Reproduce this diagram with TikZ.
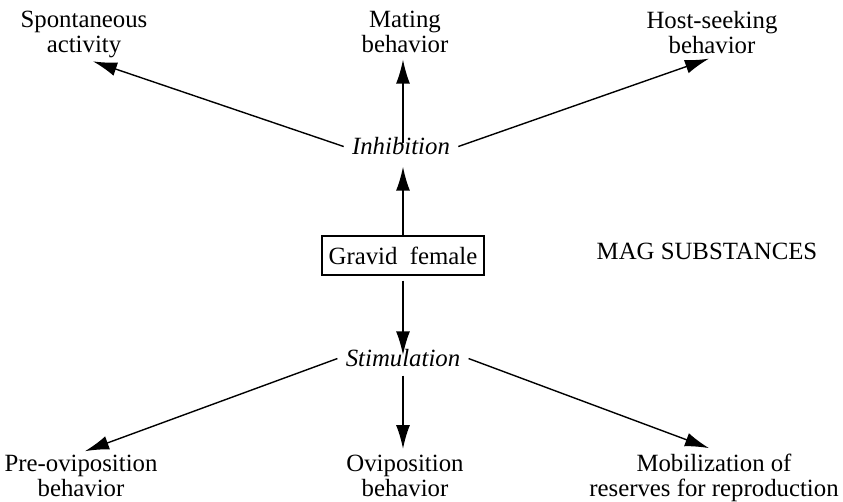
\documentclass[tikz,border=0pt]{standalone}
\usepackage{fontspec}
\setmainfont{Liberation Serif}
\usetikzlibrary{arrows.meta,calc}
\begin{document}
\begin{tikzpicture}[x=0.5pt,y=-0.5pt,
  lbl/.style={align=center, inner sep=3pt, font=\fontsize{12.4}{12.5}\selectfont},
  mid/.style={inner xsep=4pt, inner ysep=1pt, font=\fontsize{12.4}{12.5}\selectfont\itshape},
  arr/.style={-{Latex[length=12pt,width=7pt]}, line width=0.7pt},
  arrthick/.style={-{Latex[length=12pt,width=7pt]}, line width=1pt}]
\useasboundingbox (0,0) rectangle (843,502);
% labels (anchor base = baseline of the last line)
\node[lbl,anchor=base] (spont) at (84,53) {Spontaneous\\activity};
\node[lbl,anchor=base] (mating) at (405,53) {Mating\\behavior};
\node[lbl,anchor=base] (host) at (712,54) {Host-seeking\\behavior};
\node[mid,anchor=base] (inhib) at (401,155) {Inhibition};
\node[draw, line width=0.6pt, minimum width=81pt, minimum height=19.5pt, inner sep=0pt,
      font=\fontsize{12.4}{12.5}\selectfont] (gravid) at (403,255.5) {Gravid\hspace{0.5em}female};
\node[anchor=base, inner sep=0pt, font=\fontsize{12.4}{12.5}\selectfont] (mag) at (707,260) {MAG SUBSTANCES};
\node[mid,anchor=base] (stim) at (403,367) {Stimulation};
\node[lbl,anchor=base] (preovi) at (81,497) {Pre-oviposition\\behavior};
\node[lbl,anchor=base] (ovi) at (405,497) {Oviposition\\behavior};
\node[lbl,anchor=base] (mobil) at (714,497) {Mobilization of\\reserves for reproduction};
% connectors
\draw[arr] (inhib.west) -- ([shift={(4.5pt,1.7pt)}]spont.south);
\draw[arr, shorten <=-4pt] (inhib.north -| gravid.north) -- (mating.south -| gravid.north);
\draw[arr] (inhib.east) -- ([shift={(-1.5pt,1pt)}]host.south);
\draw[arr, line width=0.8pt, shorten >=4.5pt] (gravid.north) -- (inhib.south -| gravid.north);
\draw[arrthick, shorten <=2.5pt, shorten >=-4pt] (gravid.south) -- (stim.north -| gravid.south);
\draw[arr] (stim.west) -- ([shift={(2pt,-1pt)}]preovi.north);
\draw[arrthick, shorten <=3pt] (stim.south -| gravid.south) -- (ovi.north -| gravid.south);
\draw[arr] (stim.east) -- ([shift={(-2.5pt,0pt)}]mobil.north);
\end{tikzpicture}
\end{document}
